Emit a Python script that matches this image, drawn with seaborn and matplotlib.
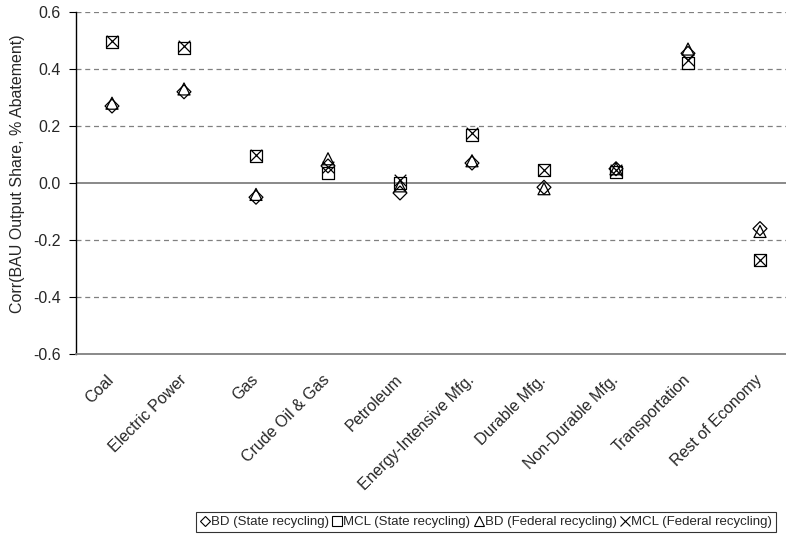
import matplotlib
matplotlib.use("Agg")
import matplotlib.pyplot as plt
import seaborn as sns
import pandas as pd
import numpy as np
from matplotlib.lines import Line2D
import matplotlib.transforms as mtransforms

sectors = ["Coal", "Electric Power", "Gas", "Crude Oil & Gas", "Petroleum",
           "Energy-Intensive Mfg.", "Durable Mfg.", "Non-Durable Mfg.",
           "Transportation", "Rest of Economy"]

bd_state = [0.27, 0.32, -0.05, 0.06, -0.035, 0.07, -0.015, 0.05, 0.455, -0.16]
mcl_state = [0.495, 0.475, 0.095, 0.035, 0.0, 0.17, 0.045, 0.04, 0.42, -0.27]
bd_federal = [0.28, 0.33, -0.04, 0.085, -0.01, 0.078, -0.02, 0.05, 0.47, -0.17]
mcl_federal = [0.50, 0.48, 0.10, 0.055, 0.01, 0.175, 0.045, 0.045, 0.43, -0.27]

series_names = ["BD (State recycling)", "MCL (State recycling)",
                "BD (Federal recycling)", "MCL (Federal recycling)"]
series_values = [bd_state, mcl_state, bd_federal, mcl_federal]
series_markers = ["D", "s", "^", "x"]
series_sizes = [50, 75, 75, 70]

sns.set_style("white")
plt.rcParams["font.family"] = ["Liberation Sans", "DejaVu Sans"]
plt.rcParams["font.size"] = 11.5

fig = plt.figure(figsize=(7.86, 5.40), dpi=100)
W, H = 786, 540
ax = fig.add_axes([76 / W, 1 - 354 / H, 720 / W, 342 / H])

df = pd.DataFrame({
    "sector": np.tile(sectors, len(series_names)),
    "value": np.concatenate(series_values),
    "series": np.repeat(series_names, len(sectors)),
})
df["pos"] = np.tile(np.arange(len(sectors)), len(series_names))

for name, marker, size in zip(series_names, series_markers, series_sizes):
    sub = df[df["series"] == name]
    if marker == "x":
        sns.scatterplot(data=sub, x="pos", y="value", marker=marker, s=size,
                        color="black", linewidth=0.9, ax=ax, legend=False, zorder=3)
    else:
        sns.scatterplot(data=sub, x="pos", y="value", marker=marker, s=size,
                        facecolor="none", edgecolor="black", linewidth=0.9,
                        ax=ax, legend=False, zorder=3)

ax.set_xlim(-0.5, len(sectors) - 0.5)
ax.set_ylim(-0.6, 0.6)
yt = np.arange(-0.6, 0.61, 0.2)
ax.set_yticks(yt)
ax.set_yticklabels([f"{v:.1f}" for v in yt])
ax.set_xticks(range(len(sectors)))
ax.set_xticklabels(sectors, rotation=45, ha="right", rotation_mode="anchor")
ax.set_xlabel("")
ax.set_ylabel("Corr(BAU Output Share, % Abatement)", fontsize=11.5)
ax.yaxis.set_label_coords((25 - 76) / 720, (354 - 173.5) / 342)

# dashed grid lines, solid zero line
for v in [-0.4, -0.2, 0.2, 0.4, 0.6]:
    ax.axhline(v, color="#808080", linestyle=(0, (4, 3)), linewidth=0.9, zorder=1)
ax.axhline(0.0, color="#808080", linewidth=1.3, zorder=1)

for side in ["top", "right"]:
    ax.spines[side].set_visible(False)
ax.spines["left"].set_color("black")
ax.spines["left"].set_linewidth(1.0)
ax.spines["bottom"].set_color("#808080")
ax.spines["bottom"].set_linewidth(1.3)

ax.tick_params(axis="y", which="major", direction="out", length=5, width=0.8,
               color="black", left=True, labelsize=11.5, pad=6)
ax.tick_params(axis="x", which="major", length=0, pad=13, labelsize=11.5)
offset = mtransforms.ScaledTranslation(-4 / 72, 0, fig.dpi_scale_trans)
for lab in ax.get_xticklabels():
    lab.set_transform(lab.get_transform() + offset)

handles = []
for name, marker in zip(series_names, series_markers):
    if marker == "x":
        h = Line2D([], [], linestyle="none", marker="x", color="black",
                   markersize=6.5, markeredgewidth=0.8)
    else:
        h = Line2D([], [], linestyle="none", marker=marker, markerfacecolor="none",
                   markeredgecolor="black", markersize=6.5 if marker != "D" else 5.5,
                   markeredgewidth=0.8)
    handles.append(h)

leg = fig.legend(handles, series_names, loc="upper center",
                 bbox_to_anchor=(486 / W, 1 - 512 / H), ncol=4,
                 frameon=True, fancybox=False, edgecolor="black",
                 handlelength=0.7, handletextpad=0.1, columnspacing=0.3,
                 borderpad=0.3, borderaxespad=0, fontsize=9.5)
leg.get_frame().set_linewidth(0.8)

fig.savefig("out.png", dpi=100)
